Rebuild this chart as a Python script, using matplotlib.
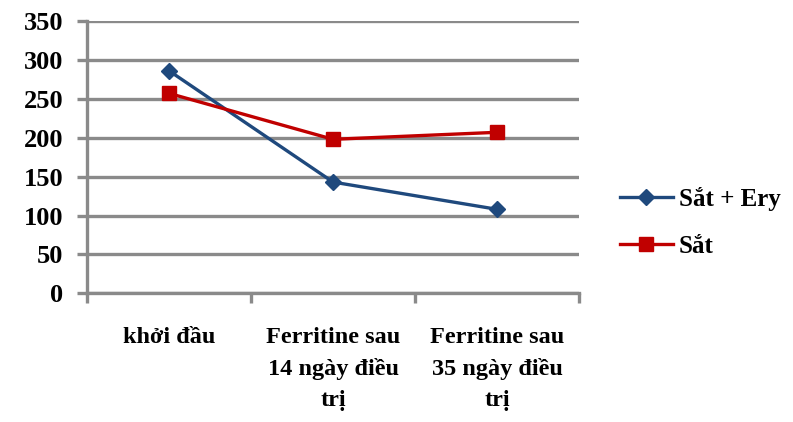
import numpy as np
import matplotlib.pyplot as plt

categories = ['khởi đầu', 'Ferritine sau\n14 ngày điều\ntrị', 'Ferritine sau\n35 ngày điều\ntrị']
sat_ery = [286, 143, 108]
sat = [257, 198, 207]
yticks = [0, 50, 100, 150, 200, 250, 300, 350]

plt.rcParams['font.family'] = ['Liberation Serif', 'DejaVu Serif']
plt.rcParams['font.weight'] = 'bold'

grid_c = '#8a8a8a'
fig = plt.figure(figsize=(7.93, 4.22), dpi=100)
ax = fig.add_axes([0.110, 0.305, 0.620, 0.645])

x = np.arange(len(categories))
ax.plot(x, sat_ery, color='#1f497d', lw=2.4, marker='D', ms=8.5, label='Sắt + Ery')
ax.plot(x, sat, color='#c00000', lw=2.4, marker='s', ms=9.5, label='Sắt')

ax.set_xlim(-0.5, 2.5)
ax.set_ylim(0, 350)
ax.set_yticks(yticks)
ax.yaxis.grid(True, color=grid_c, lw=2.4)
ax.set_axisbelow(True)

for s in ['top', 'right']:
    ax.spines[s].set_visible(False)
for s in ['left', 'bottom']:
    ax.spines[s].set_color(grid_c)
    ax.spines[s].set_linewidth(2.4)

ax.tick_params(axis='y', length=7, width=2.4, color=grid_c, labelsize=19, pad=10)
ax.set_xticks(x)
ax.set_xticklabels(categories, fontsize=17.5, linespacing=1.62)
ax.set_xticks([-0.5, 0.5, 1.5, 2.5], minor=True)
ax.tick_params(axis='x', which='major', length=0, pad=24)
ax.tick_params(axis='x', which='minor', length=7, width=2.4, color=grid_c)

ax.legend(loc='center left', bbox_to_anchor=(0.782, 0.473), bbox_transform=fig.transFigure,
          frameon=False, fontsize=18, handlelength=2.1, labelspacing=0.95,
          handletextpad=0.25, borderaxespad=0, borderpad=0)

fig.savefig('out.png', dpi=100)
